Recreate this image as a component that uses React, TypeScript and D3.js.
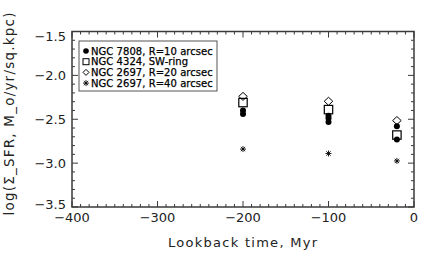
import React from "react";
import * as d3 from "d3";

const legendLabels = [
  "NGC 7808, R=10 arcsec",
  "NGC 4324, SW-ring",
  "NGC 2697, R=20 arcsec",
  "NGC 2697, R=40 arcsec",
];

// NGC 7808 (filled circles) — several overlapping points per epoch
const ngc7808X = [-200, -200, -100, -100, -100, -20, -20];
const ngc7808Y = [-2.4, -2.44, -2.46, -2.49, -2.53, -2.58, -2.73];

const times = [-200, -100, -20];
const ngc4324Y = [-2.31, -2.39, -2.68];
const ngc2697r20Y = [-2.24, -2.295, -2.515];
const ngc2697r40Y = [-2.84, -2.89, -2.975];

const xTicks = [-400, -300, -200, -100, 0];
const yTicks = [-1.5, -2.0, -2.5, -3.0, -3.5];
const xTickLabels = ["\u2212400", "\u2212300", "\u2212200", "\u2212100", "0"];
const yTickLabels = ["\u22121.5", "\u22122.0", "\u22122.5", "\u22123.0", "\u22123.5"];

const W = 436;
const H = 266;
const L = 72;
const R = 414;
const T = 31.5;
const B = 207;

const FONT = "'DejaVu Sans', sans-serif";
const AX = "#3a3a3a";

function Asterisk({ x, y, s }: { x: number; y: number; s: number }) {
  const d = s * 0.72;
  return (
    <g stroke="#000" strokeWidth={0.9}>
      <line x1={x - s} y1={y} x2={x + s} y2={y} />
      <line x1={x} y1={y - s} x2={x} y2={y + s} />
      <line x1={x - d} y1={y - d} x2={x + d} y2={y + d} />
      <line x1={x - d} y1={y + d} x2={x + d} y2={y - d} />
    </g>
  );
}

function Diamond({ x, y, w, h }: { x: number; y: number; w: number; h: number }) {
  return (
    <path
      d={`M${x},${y - h}L${x + w},${y}L${x},${y + h}L${x - w},${y}Z`}
      fill="none"
      stroke="#000"
      strokeWidth={1}
    />
  );
}

function Square({ x, y, s }: { x: number; y: number; s: number }) {
  return <rect x={x - s} y={y - s} width={2 * s} height={2 * s} fill="none" stroke="#000" strokeWidth={1.2} />;
}

export default function App() {
  const x = d3.scaleLinear().domain([-400, 0]).range([L, R]);
  const y = d3.scaleLinear().domain([-1.5, -3.5]).range([T, B]);

  const xMinor = d3.range(-400, 0.1, 10).filter((v) => !xTicks.includes(v));
  const yMinor = d3.range(-3.5, -1.49, 0.1).map((v) => Math.round(v * 10) / 10).filter((v) => !yTicks.includes(v));

  const labY = (v: number) => Math.min(Math.max(y(v), T + 4.5), B - 3);

  return (
    <svg
      width={W}
      height={H}
      style={{ position: "absolute", left: 0, top: 0, background: "#fff" }}
      fontFamily={FONT}
    >
      <rect x={0} y={0} width={W} height={H} fill="#fff" />
      {/* frame */}
      <rect x={L} y={T} width={R - L} height={B - T} fill="none" stroke={AX} strokeWidth={1.5} />
      {/* x ticks */}
      {xTicks.map((v) => (
        <g key={"xt" + v} stroke={AX} strokeWidth={1}>
          <line x1={x(v)} x2={x(v)} y1={B} y2={B - 6} />
          <line x1={x(v)} x2={x(v)} y1={T} y2={T + 6} />
        </g>
      ))}
      {xMinor.map((v) => (
        <g key={"xm" + v} stroke={AX} strokeWidth={1}>
          <line x1={x(v)} x2={x(v)} y1={B} y2={B - 3} />
          <line x1={x(v)} x2={x(v)} y1={T} y2={T + 3} />
        </g>
      ))}
      {yTicks.map((v) => (
        <g key={"yt" + v} stroke={AX} strokeWidth={1}>
          <line x1={L} x2={L + 6} y1={y(v)} y2={y(v)} />
          <line x1={R} x2={R - 6} y1={y(v)} y2={y(v)} />
        </g>
      ))}
      {yMinor.map((v) => (
        <g key={"ym" + v} stroke={AX} strokeWidth={1}>
          <line x1={L} x2={L + 3} y1={y(v)} y2={y(v)} />
          <line x1={R} x2={R - 3} y1={y(v)} y2={y(v)} />
        </g>
      ))}
      {/* tick labels */}
      {xTicks.map((v, i) => (
        <text key={"xl" + v} x={x(v)} y={222} fontSize={13} textAnchor="middle" fill="#222">
          {xTickLabels[i]}
        </text>
      ))}
      {yTicks.map((v, i) => (
        <text
          key={"yl" + v}
          x={66}
          y={labY(v)}
          dy="0.36em"
          fontSize={13}
          textAnchor="end"
          fill="#222"
        >
          {yTickLabels[i]}
        </text>
      ))}
      {/* axis titles */}
      <text x={(L + R) / 2 - 0.5} y={247} fontSize={13} textAnchor="middle" fill="#222" textLength={149} lengthAdjust="spacing">
        Lookback time, Myr
      </text>
      <text
        transform={`translate(14,114) rotate(-90)`}
        fontSize={13.5}
        textAnchor="middle"
        fill="#222"
        textLength={203}
        lengthAdjust="spacing"
      >
        {"log(\u03A3_SFR, M_o/yr/sq.kpc)"}
      </text>

      {/* legend */}
      <rect x={79} y={41} width={138} height={50} fill="#fff" stroke="#555" strokeWidth={1} />
      {legendLabels.map((lab, i) => {
        const ly = 51 + i * 10.7;
        const sx = 86;
        return (
          <g key={"lg" + i}>
            {i === 0 && <circle cx={sx} cy={ly} r={2.8} fill="#000" />}
            {i === 1 && <rect x={sx - 3} y={ly - 3} width={6} height={6} fill="none" stroke="#000" strokeWidth={1} />}
            {i === 2 && <Diamond x={sx} y={ly} w={3} h={3} />}
            {i === 3 && <Asterisk x={sx} y={ly} s={3} />}
            <text x={91} y={ly} dy="0.36em" fontSize={10} fill="#000" letterSpacing={0.05} stroke="#000" strokeWidth={0.25}>
              {lab}
            </text>
          </g>
        );
      })}

      {/* data */}
      {ngc2697r20Y.map((v, i) => (
        <Diamond key={"d" + i} x={x(times[i])} y={y(v)} w={4.3} h={4} />
      ))}
      {ngc4324Y.map((v, i) => (
        <Square key={"s" + i} x={x(times[i])} y={y(v)} s={4.2} />
      ))}
      {ngc7808X.map((t, i) => (
        <circle key={"c" + i} cx={x(t)} cy={y(ngc7808Y[i])} r={3} fill="#000" />
      ))}
      {ngc2697r40Y.map((v, i) => (
        <Asterisk key={"a" + i} x={x(times[i])} y={y(v)} s={3} />
      ))}
    </svg>
  );
}
